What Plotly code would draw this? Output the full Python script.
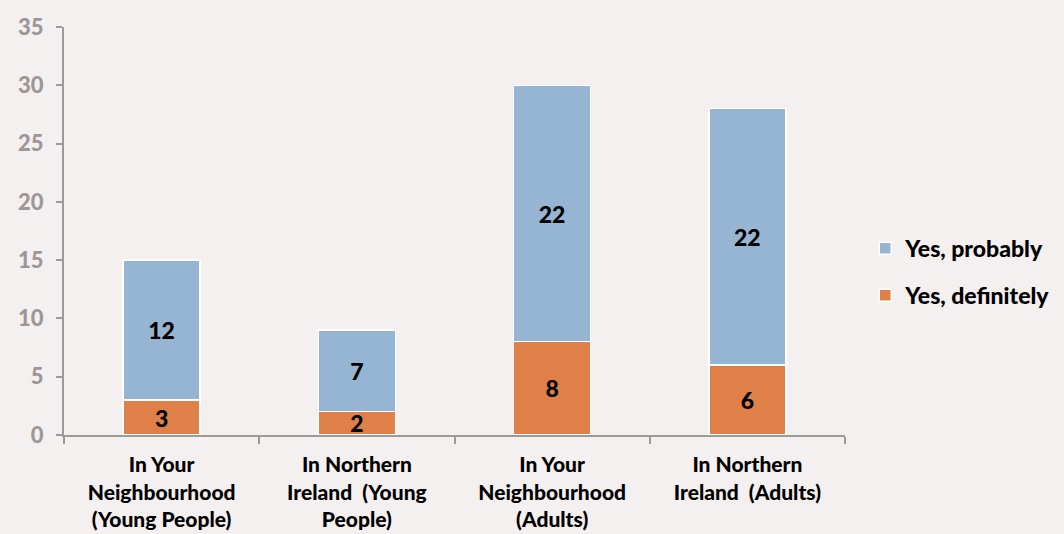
import plotly.graph_objects as go

categories = [
    "In Your<br>Neighbourhood<br>(Young People)",
    "In Northern<br>Ireland  (Young<br>People)",
    "In Your<br>Neighbourhood<br>(Adults)",
    "In Northern<br>Ireland  (Adults)",
]
definitely = [3, 2, 8, 6]
probably = [12, 7, 22, 22]
y_ticks = [0, 5, 10, 15, 20, 25, 30, 35]

BG = "#F4F0EF"
FONT = "Lato"
W = 900

fig = go.Figure()
fig.add_trace(go.Bar(
    x=categories, y=definitely, name="Yes, definitely",
    marker=dict(color="#DE8047", line=dict(color="white", width=1.5)),
    text=definitely, textposition="inside", insidetextanchor="middle", textangle=0,
    constraintext="none",
    textfont=dict(family=FONT, size=23, color="black", weight=W),
    legendgroup="b", legendrank=2, width=0.395, hoverinfo="skip",
))
fig.add_trace(go.Bar(
    x=categories, y=probably, name="Yes, probably",
    marker=dict(color="#95B5D3", line=dict(color="white", width=1.5)),
    text=probably, textposition="inside", insidetextanchor="middle", textangle=0,
    constraintext="none",
    textfont=dict(family=FONT, size=23, color="black", weight=W),
    legendgroup="a", legendrank=1, width=0.395, hoverinfo="skip",
))

fig.update_layout(
    barmode="stack",
    width=1064, height=534,
    paper_bgcolor=BG, plot_bgcolor=BG,
    margin=dict(l=64, r=219, t=27, b=99, autoexpand=False),
    font=dict(family=FONT, size=19, color="black", weight=W),
    showlegend=True,
    legend=dict(
        x=1.026, y=0.40, xanchor="left", yanchor="middle",
        traceorder="grouped", tracegroupgap=14,
        font=dict(family=FONT, size=23, color="black", weight=W),
        itemwidth=30, bgcolor="rgba(0,0,0,0)",
    ),
)
fig.update_xaxes(
    showline=True, linecolor="#9A9A9A", linewidth=2,
    ticks="outside", tickson="boundaries", ticklen=7, tickcolor="#9A9A9A", tickwidth=1.5,
    tickfont=dict(family=FONT, size=21, color="black", weight=W),
    ticklabelstandoff=10, automargin=False,
    showgrid=False,
)
fig.update_yaxes(
    range=[0, 35], tickvals=y_ticks,
    showline=True, linecolor="#9A9A9A", linewidth=2,
    ticks="outside", ticklen=6, tickcolor="#9A9A9A", tickwidth=1.5,
    tickfont=dict(family=FONT, size=22, color="#9E9696", weight=W),
    ticklabelstandoff=8, automargin=False,
    showgrid=False, zeroline=False,
)

fig.write_html(
    "out.html",
    config={"displayModeBar": False},
    post_script="document.body.style.margin='0';document.body.style.background='%s';" % BG,
)
